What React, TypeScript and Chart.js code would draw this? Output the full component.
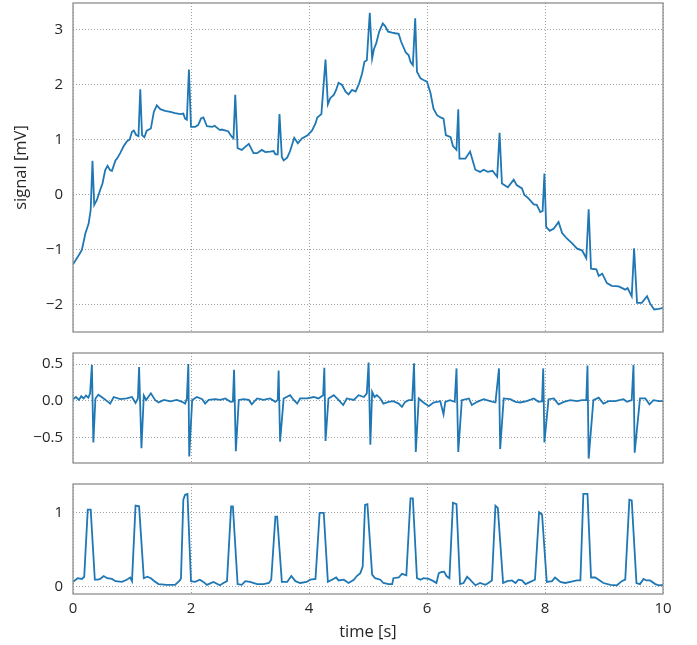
import React, { useEffect, useRef } from "react";
import { Chart, registerables } from "chart.js";

Chart.register(...registerables);

// ---------- data ----------
const xTicks = [0, 2, 4, 6, 8, 10];
const topTicks = [-2, -1, 0, 1, 2, 3];
const midTicks = [-0.5, 0, 0.5];
const botTicks = [0, 1];

const topTime = [
  0.0, 0.1, 0.15, 0.21, 0.265, 0.3, 0.33, 0.36, 0.405, 0.46, 0.5, 0.545, 0.585, 0.63, 0.66, 0.72, 0.745, 0.8, 0.86, 0.91,
  0.96, 1.0, 1.03, 1.07, 1.11, 1.14, 1.17, 1.21, 1.25, 1.32, 1.37, 1.42, 1.48, 1.56, 1.65, 1.73, 1.82, 1.87, 1.9, 1.93,
  1.965, 2.0, 2.07, 2.12, 2.17, 2.21, 2.27, 2.36, 2.4, 2.49, 2.52, 2.63, 2.69, 2.72, 2.75, 2.79, 2.86, 2.98, 3.06, 3.12,
  3.2, 3.26, 3.34, 3.4, 3.43, 3.47, 3.5, 3.54, 3.57, 3.63, 3.68, 3.75, 3.81, 3.88, 3.97, 4.05, 4.11, 4.14, 4.21, 4.28,
  4.32, 4.36, 4.42, 4.46, 4.5, 4.56, 4.62, 4.67, 4.73, 4.79, 4.85, 4.9, 4.94, 4.98, 5.03, 5.07, 5.1, 5.14, 5.19, 5.25,
  5.29, 5.34, 5.41, 5.46, 5.52, 5.56, 5.6, 5.64, 5.69, 5.72, 5.76, 5.8, 5.83, 5.89, 5.94, 6.0, 6.06, 6.11, 6.17, 6.23,
  6.28, 6.32, 6.4, 6.44, 6.5, 6.53, 6.55, 6.65, 6.73, 6.79, 6.82, 6.9, 6.96, 7.03, 7.11, 7.19, 7.23, 7.27, 7.37, 7.47,
  7.52, 7.61, 7.65, 7.72, 7.81, 7.86, 7.92, 7.96, 7.99, 8.02, 8.08, 8.15, 8.23, 8.29, 8.37, 8.46, 8.54, 8.63, 8.7, 8.74,
  8.78, 8.87, 8.91, 8.97, 9.05, 9.13, 9.25, 9.36, 9.4, 9.47, 9.51, 9.56, 9.64, 9.73, 9.78, 9.85, 9.93, 10.0,
];
const topSignal = [
  -1.27, -1.1, -1.01, -0.71, -0.53, -0.28, 0.61, -0.19, -0.1, 0.08, 0.2, 0.44, 0.52, 0.44, 0.43, 0.62, 0.65, 0.75, 0.88, 0.96,
  1.0, 1.14, 1.16, 1.08, 1.06, 1.91, 1.08, 1.04, 1.16, 1.2, 1.5, 1.62, 1.55, 1.52, 1.5, 1.48, 1.46, 1.47, 1.38, 1.36,
  2.27, 1.23, 1.23, 1.26, 1.38, 1.4, 1.24, 1.23, 1.25, 1.17, 1.18, 1.15, 1.05, 1.02, 1.81, 0.84, 0.81, 0.92, 0.75, 0.75,
  0.81, 0.77, 0.78, 0.79, 0.73, 0.73, 1.46, 0.68, 0.62, 0.67, 0.79, 1.03, 0.93, 1.02, 1.07, 1.16, 1.29, 1.4, 1.46, 2.45,
  1.64, 1.75, 1.81, 1.9, 2.03, 1.99, 1.87, 1.82, 1.9, 1.87, 2.02, 2.2, 2.41, 2.44, 3.3, 2.47, 2.64, 2.75, 2.96, 3.11,
  3.06, 2.96, 2.94, 2.93, 2.92, 2.78, 2.68, 2.58, 2.53, 2.41, 2.35, 3.2, 2.23, 2.11, 2.08, 2.05, 1.84, 1.56, 1.44, 1.4,
  1.38, 1.08, 1.04, 0.88, 0.81, 1.55, 0.65, 0.65, 0.78, 0.56, 0.45, 0.41, 0.45, 0.41, 0.43, 0.32, 1.12, 0.2, 0.13, 0.27,
  0.17, 0.11, -0.01, -0.07, -0.18, -0.19, -0.32, -0.3, 0.38, -0.59, -0.66, -0.62, -0.5, -0.7, -0.8, -0.89, -0.98, -1.02, -1.16, -0.27,
  -1.35, -1.36, -1.48, -1.44, -1.61, -1.66, -1.67, -1.73, -1.7, -1.85, -0.98, -1.97, -1.97, -1.85, -1.98, -2.09, -2.08, -2.06,
];

const midTime = [
  0.0, 0.05, 0.1, 0.14, 0.18, 0.22, 0.26, 0.29, 0.32, 0.345, 0.38, 0.43, 0.52, 0.6, 0.63, 0.69, 0.8, 0.91, 1.0, 1.06,
  1.1, 1.12, 1.16, 1.2, 1.24, 1.32, 1.39, 1.45, 1.54, 1.65, 1.76, 1.85, 1.9, 1.93, 1.955, 1.97, 2.02, 2.1, 2.19, 2.24,
  2.3, 2.41, 2.5, 2.58, 2.67, 2.71, 2.73, 2.76, 2.81, 2.89, 2.98, 3.03, 3.12, 3.23, 3.34, 3.43, 3.47, 3.485, 3.51, 3.57,
  3.68, 3.74, 3.8, 3.85, 3.97, 4.08, 4.16, 4.24, 4.26, 4.28, 4.33, 4.42, 4.5, 4.58, 4.64, 4.76, 4.84, 4.93, 4.98, 5.01,
  5.04, 5.07, 5.11, 5.15, 5.21, 5.26, 5.35, 5.43, 5.52, 5.575, 5.63, 5.69, 5.75, 5.78, 5.81, 5.86, 5.94, 6.03, 6.11, 6.225,
  6.28, 6.31, 6.39, 6.47, 6.5, 6.53, 6.59, 6.71, 6.76, 6.85, 6.96, 7.07, 7.16, 7.22, 7.24, 7.3, 7.41, 7.5, 7.58, 7.69,
  7.81, 7.89, 7.95, 7.97, 7.99, 8.06, 8.15, 8.23, 8.32, 8.43, 8.54, 8.63, 8.7, 8.72, 8.74, 8.82, 8.91, 8.99, 9.08, 9.19,
  9.33, 9.39, 9.47, 9.5, 9.52, 9.61, 9.7, 9.77, 9.84, 9.93, 10.0,
];
const midSignal = [
  0.02, 0.05, 0.01, 0.06, 0.03, 0.07, 0.04, 0.1, 0.49, -0.57, 0.03, 0.08, 0.03, -0.02, -0.04, 0.05, 0.02, 0.03, 0.05, -0.03,
  0.03, 0.46, -0.65, 0.07, 0.01, 0.1, 0.01, -0.025, 0.01, -0.01, 0.01, -0.016, -0.04, 0.03, 0.5, -0.76, 0.01, 0.05, 0.02, -0.04,
  0.01, 0.02, 0.01, 0.03, -0.016, -0.01, 0.42, -0.69, 0.01, 0.02, 0.01, -0.05, 0.03, 0.01, 0.03, -0.016, 0.01, 0.41, -0.56, 0.03,
  0.075, 0.01, -0.04, 0.03, 0.03, 0.05, 0.03, 0.075, 0.45, -0.55, 0.03, 0.075, 0.01, -0.06, 0.03, 0.01, 0.075, 0.05, 0.1, 0.52,
  -0.6, 0.12, 0.05, 0.075, 0.03, -0.04, -0.016, -0.007, -0.04, -0.085, -0.016, 0.007, 0.007, 0.51, -0.7, 0.03, -0.025, -0.075, -0.025, -0.007,
  -0.185, -0.016, 0.007, -0.016, 0.44, -0.7, 0.007, 0.03, -0.06, -0.016, 0.02, -0.007, -0.025, 0.44, -0.66, 0.03, 0.02, -0.016, -0.025, -0.007,
  0.03, -0.016, -0.007, 0.44, -0.57, 0.02, 0.03, -0.05, -0.016, 0.007, -0.007, 0.007, 0.007, 0.48, -0.79, 0.007, 0.04, -0.04, -0.007, -0.007,
  0.02, -0.016, 0.007, 0.49, -0.71, 0.03, 0.03, -0.05, 0.007, -0.007, -0.007,
];

const botTime = [
  0.0, 0.08, 0.15, 0.19, 0.25, 0.3, 0.37, 0.42, 0.46, 0.52, 0.58, 0.66, 0.72, 0.83, 0.91, 0.97, 1.0, 1.06, 1.12, 1.2,
  1.26, 1.32, 1.38, 1.45, 1.59, 1.73, 1.81, 1.83, 1.87, 1.9, 1.94, 2.0, 2.07, 2.15, 2.21, 2.27, 2.38, 2.49, 2.55, 2.61,
  2.68, 2.71, 2.79, 2.86, 2.92, 3.0, 3.12, 3.23, 3.32, 3.36, 3.43, 3.46, 3.54, 3.63, 3.7, 3.77, 3.85, 3.96, 4.02, 4.11,
  4.18, 4.25, 4.32, 4.39, 4.46, 4.5, 4.59, 4.67, 4.76, 4.81, 4.87, 4.91, 4.95, 4.99, 5.07, 5.12, 5.21, 5.26, 5.35, 5.41,
  5.43, 5.52, 5.575, 5.65, 5.72, 5.76, 5.83, 5.89, 5.94, 6.03, 6.11, 6.16, 6.2, 6.25, 6.29, 6.33, 6.38, 6.44, 6.5, 6.56,
  6.62, 6.68, 6.73, 6.82, 6.9, 6.99, 7.04, 7.1, 7.16, 7.2, 7.29, 7.36, 7.44, 7.5, 7.55, 7.61, 7.67, 7.75, 7.83, 7.9,
  7.95, 8.03, 8.12, 8.17, 8.26, 8.34, 8.43, 8.54, 8.6, 8.65, 8.72, 8.78, 8.85, 8.91, 8.99, 9.11, 9.22, 9.3, 9.36, 9.43,
  9.47, 9.55, 9.61, 9.67, 9.72, 9.78, 9.87, 9.93, 10.0,
];
const botSignal = [
  0.06, 0.11, 0.1, 0.13, 1.045, 1.045, 0.09, 0.09, 0.1, 0.14, 0.11, 0.1, 0.07, 0.06, 0.09, 0.12, 0.07, 1.1, 1.09, 0.11,
  0.13, 0.11, 0.07, 0.03, 0.02, 0.02, 0.08, 0.11, 1.18, 1.25, 1.26, 0.07, 0.06, 0.09, 0.06, 0.02, 0.06, 0.014, 0.045, 0.07,
  1.09, 1.09, 0.03, 0.02, 0.07, 0.06, 0.03, 0.03, 0.045, 0.09, 0.95, 0.95, 0.06, 0.06, 0.14, 0.07, 0.045, 0.06, 0.09, 0.1,
  1.0, 1.0, 0.06, 0.09, 0.12, 0.08, 0.09, 0.045, 0.09, 0.14, 0.18, 0.27, 1.11, 1.12, 0.16, 0.11, 0.09, 0.045, 0.03, 0.03,
  0.11, 0.12, 0.17, 0.15, 1.2, 1.2, 0.11, 0.09, 0.11, 0.1, 0.07, 0.045, 0.18, 0.195, 0.2, 0.14, 0.11, 1.14, 1.12, 0.03,
  0.045, 0.13, 0.09, 0.014, 0.045, 0.02, 0.045, 0.08, 1.1, 1.07, 0.045, 0.07, 0.08, 0.045, 0.09, 0.08, 0.03, 0.06, 0.09, 1.01,
  0.98, 0.06, 0.07, 0.12, 0.06, 0.045, 0.06, 0.08, 0.08, 1.26, 1.26, 0.12, 0.12, 0.09, 0.045, 0.02, 0.014, 0.07, 0.09, 1.18,
  1.17, 0.045, 0.03, 0.1, 0.08, 0.08, 0.03, 0.014, 0.02,
];

// ---------- styling ----------
const FONT = "'Open Sans', 'Noto Sans', sans-serif";
const LINE = "#1f77b4";
const GRID = "#a0a0a0";
const TEXT = "#262626";
const W = 697;

const fmtMinus = (s: string) => s.replace("-", "\u2212");

const framePlugin = {
  id: "frame",
  afterDraw(chart: any) {
    const { ctx, chartArea } = chart;
    const { left, top, right, bottom } = chartArea;
    ctx.save();
    ctx.strokeStyle = "#8a8a8a";
    ctx.lineWidth = 1.25;
    ctx.strokeRect(left, top, right - left, bottom - top);
    ctx.restore();
  },
};

type PanelProps = {
  time: number[];
  values: number[];
  yMin: number;
  yMax: number;
  yTicks: number[];
  fmt: (v: number) => string;
  yTitle?: string;
  showX: boolean;
  top: number;
  height: number;
  padTop: number;
  padBottom: number;
};

function Panel(p: PanelProps) {
  const ref = useRef<HTMLCanvasElement | null>(null);
  useEffect(() => {
    if (!ref.current) return;
    const data = p.time.map((t, i) => ({ x: t, y: p.values[i] }));
    const chart = new Chart(ref.current, {
      type: "line",
      data: {
        datasets: [
          {
            data,
            borderColor: LINE,
            borderWidth: 1.8,
            pointRadius: 0,
            tension: 0,
            fill: false,
          },
        ],
      },
      plugins: [framePlugin],
      options: {
        animation: false,
        responsive: false,
        devicePixelRatio: 1,
        events: [],
        layout: { padding: { left: 0, right: 34, top: p.padTop, bottom: p.padBottom } },
        plugins: { legend: { display: false }, tooltip: { enabled: false }, title: { display: false } },
        scales: {
          x: {
            type: "linear",
            min: 0,
            max: 10,
            afterBuildTicks: (s: any) => {
              s.ticks = xTicks.map((v) => ({ value: v }));
            },
            afterFit: (s: any) => {
              s.height = p.showX ? 51 : 0;
              s.paddingLeft = 0;
              s.paddingRight = 0;
              s.paddingTop = 0;
              s.paddingBottom = 0;
            },
            grid: { color: GRID, lineWidth: 1, drawTicks: false },
            border: { display: false, dash: [1, 2] },
            ticks: {
              display: p.showX,
              padding: 6,
              color: TEXT,
              font: { family: FONT, size: 15 },
              maxRotation: 0,
              callback: (v: any) => String(v),
            },
            title: {
              display: p.showX,
              text: "time [s]",
              color: TEXT,
              font: { family: FONT, size: 16.5 },
              padding: { top: 0, bottom: 3 },
            },
          },
          y: {
            type: "linear",
            min: p.yMin,
            max: p.yMax,
            afterBuildTicks: (s: any) => {
              s.ticks = p.yTicks.map((v) => ({ value: v }));
            },
            afterFit: (s: any) => {
              s.width = 73;
              s.paddingLeft = 0;
              s.paddingRight = 0;
              s.paddingTop = 0;
              s.paddingBottom = 0;
            },
            grid: { color: GRID, lineWidth: 1, drawTicks: false },
            border: { display: false, dash: [1, 2] },
            ticks: {
              padding: 10,
              color: TEXT,
              font: { family: FONT, size: 15 },
              callback: (v: any) => p.fmt(Number(v)),
            },
            title: {
              display: !!p.yTitle,
              text: p.yTitle || "",
              color: TEXT,
              font: { family: FONT, size: 16.5 },
              padding: { top: 11, bottom: 0 },
            },
          },
        },
      },
    });
    return () => chart.destroy();
  }, []);
  return (
    <canvas
      ref={ref}
      width={W}
      height={p.height}
      style={{ position: "absolute", left: 0, top: p.top, width: W, height: p.height }}
    />
  );
}

export default function App() {
  return (
    <div style={{ position: "fixed", left: 0, top: 0, width: W, height: 645, background: "#fff" }}>
      <Panel
        time={topTime}
        values={topSignal}
        yMin={-2.5}
        yMax={3.48}
        yTicks={topTicks}
        fmt={(v) => fmtMinus(String(v))}
        yTitle="signal [mV]"
        showX={false}
        top={0}
        height={340}
        padTop={3}
        padBottom={8}
      />
      <Panel
        time={midTime}
        values={midSignal}
        yMin={-0.85}
        yMax={0.65}
        yTicks={midTicks}
        fmt={(v) => fmtMinus(v.toFixed(1))}
        showX={false}
        top={340}
        height={130}
        padTop={13}
        padBottom={7}
      />
      <Panel
        time={botTime}
        values={botSignal}
        yMin={-0.105}
        yMax={1.395}
        yTicks={botTicks}
        fmt={(v) => String(v)}
        showX={true}
        top={470}
        height={175}
        padTop={14}
        padBottom={0}
      />
    </div>
  );
}
